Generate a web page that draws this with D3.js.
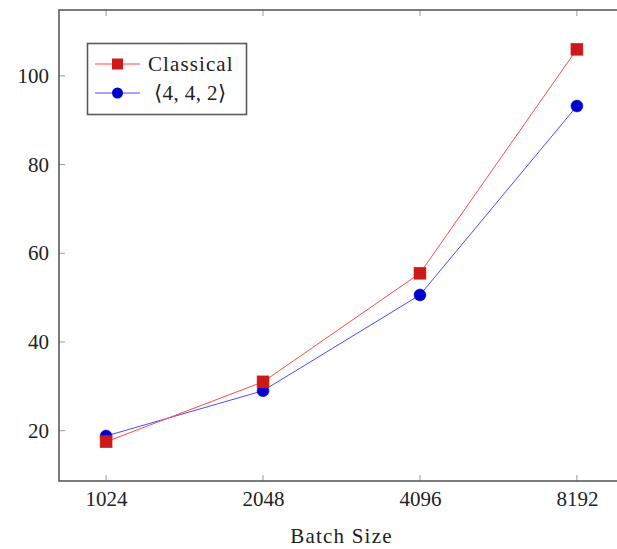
<!DOCTYPE html>
<html>
<head>
<meta charset="utf-8">
<script src="https://cdn.jsdelivr.net/npm/d3@7"></script>
<style>
  html, body { margin: 0; padding: 0; background: #fff; }
  svg { display: block; font-family: "Liberation Serif", "DejaVu Serif", serif; }
</style>
</head>
<body>
<svg id="chart" width="617" height="549"></svg>
<script>
// Batch sizes on the x axis (log2 spaced)
const batchSizes = [1024, 2048, 4096, 8192];
const xTickLabels = ["1024", "2048", "4096", "8192"];
const yTicks = [20, 40, 60, 80, 100];

// Series values
const classical = [17.5, 31.0, 55.5, 106.0];
const tensor442 = [18.8, 29.0, 50.6, 93.2];

const seriesNames = ["Classical", "\u27E84, 4, 2\u27E9"];

const svg = d3.select("#chart");
const frame = { left: 59, right: 624, top: 10, bottom: 481 };

// Axis limits widened by 10% of the data range on each side
const enlarge = 0.1;
const lx = [Math.log2(d3.min(batchSizes)), Math.log2(d3.max(batchSizes))];
const lxPad = (lx[1] - lx[0]) * enlarge;
const x = d3.scaleLog().base(2)
  .domain([Math.pow(2, lx[0] - lxPad), Math.pow(2, lx[1] + lxPad)])
  .range([frame.left, frame.right]);

const allY = classical.concat(tensor442);
const ext = d3.extent(allY);
const yPad = (ext[1] - ext[0]) * enlarge;
const y = d3.scaleLinear()
  .domain([ext[0] - yPad, ext[1] + yPad])
  .range([frame.bottom, frame.top]);

const frameColor = "#5a5a5a";
const tickColor = "#9a9a9a";
const textColor = "#222";
const tickLen = 6;
const fontSize = 21;

// Inward ticks on all four sides
const gTicks = svg.append("g").attr("stroke", tickColor).attr("stroke-width", 1);
batchSizes.forEach(b => {
  const px = x(b);
  gTicks.append("line").attr("x1", px).attr("x2", px)
    .attr("y1", frame.bottom).attr("y2", frame.bottom - tickLen);
  gTicks.append("line").attr("x1", px).attr("x2", px)
    .attr("y1", frame.top).attr("y2", frame.top + tickLen);
});
yTicks.forEach(t => {
  const py = y(t);
  gTicks.append("line").attr("x1", frame.left).attr("x2", frame.left + tickLen)
    .attr("y1", py).attr("y2", py);
  gTicks.append("line").attr("x1", frame.right).attr("x2", frame.right - tickLen)
    .attr("y1", py).attr("y2", py);
});

// Tick labels via d3 axes (tick lines hidden; drawn above)
const xAxis = d3.axisBottom(x).tickValues(batchSizes)
  .tickFormat((d, i) => xTickLabels[i]).tickSize(0).tickPadding(10);
const gx = svg.append("g").attr("transform", `translate(0,${frame.bottom})`).call(xAxis);
gx.select(".domain").remove();
gx.selectAll("text").attr("font-size", fontSize).attr("fill", textColor)
  .attr("font-family", "Liberation Serif, serif");

const yAxis = d3.axisLeft(y).tickValues(yTicks).tickSize(0).tickPadding(10);
const gy = svg.append("g").attr("transform", `translate(${frame.left},0)`).call(yAxis);
gy.select(".domain").remove();
gy.selectAll("text").attr("font-size", fontSize).attr("fill", textColor)
  .attr("font-family", "Liberation Serif, serif");

// Frame
svg.append("rect")
  .attr("x", frame.left).attr("y", frame.top)
  .attr("width", frame.right - frame.left).attr("height", frame.bottom - frame.top)
  .attr("fill", "none").attr("stroke", frameColor).attr("stroke-width", 1.6);

// Axis title
svg.append("text")
  .attr("x", (frame.left + frame.right) / 2).attr("y", 543)
  .attr("text-anchor", "middle").attr("font-size", fontSize).attr("fill", textColor)
  .attr("letter-spacing", 1.2)
  .text("Batch Size");

const line = d3.line().x(d => x(d[0])).y(d => y(d[1]));
const pts = vals => batchSizes.map((b, i) => [b, vals[i]]);

const blue = { line: "#4a4aff", fill: "#0000cc" };
const red = { line: "#ff4a4a", fill: "#cc1a1a" };
const markSize = 12, markR = 6;

// Blue series (circles)
svg.append("path").datum(pts(tensor442)).attr("d", line)
  .attr("fill", "none").attr("stroke", blue.line).attr("stroke-width", 1);
svg.append("g").selectAll("circle").data(pts(tensor442)).join("circle")
  .attr("cx", d => x(d[0])).attr("cy", d => y(d[1])).attr("r", markR)
  .attr("fill", blue.fill).attr("stroke", "#0000ee").attr("stroke-width", 0.5);

// Red series (squares)
svg.append("path").datum(pts(classical)).attr("d", line)
  .attr("fill", "none").attr("stroke", red.line).attr("stroke-width", 1);
svg.append("g").selectAll("rect").data(pts(classical)).join("rect")
  .attr("x", d => x(d[0]) - markSize / 2).attr("y", d => y(d[1]) - markSize / 2)
  .attr("width", markSize).attr("height", markSize)
  .attr("fill", red.fill).attr("stroke", "#e02020").attr("stroke-width", 0.5);

// Legend
const lg = svg.append("g");
lg.append("rect").attr("x", 87.5).attr("y", 43.5).attr("width", 159).attr("height", 71)
  .attr("fill", "#fff").attr("stroke", frameColor).attr("stroke-width", 1.6);
const entries = [
  { name: seriesNames[0], c: red, shape: "square", y: 64, tx: 148, ls: 1.1 },
  { name: seriesNames[1], c: blue, shape: "circle", y: 93, tx: 154, ls: 0.4 }
];
entries.forEach(e => {
  lg.append("line").attr("x1", 95).attr("x2", 140).attr("y1", e.y).attr("y2", e.y)
    .attr("stroke", e.c.line).attr("stroke-width", 1);
  if (e.shape === "square") {
    lg.append("rect").attr("x", 117.5 - 5.5).attr("y", e.y - 5.5).attr("width", 11).attr("height", 11)
      .attr("fill", e.c.fill);
  } else {
    lg.append("circle").attr("cx", 117.5).attr("cy", e.y).attr("r", 5.5).attr("fill", e.c.fill);
  }
  lg.append("text").attr("x", e.tx).attr("y", e.y + 7).attr("font-size", fontSize)
    .attr("letter-spacing", e.ls)
    .attr("fill", textColor).text(e.name);
});
</script>
</body>
</html>
